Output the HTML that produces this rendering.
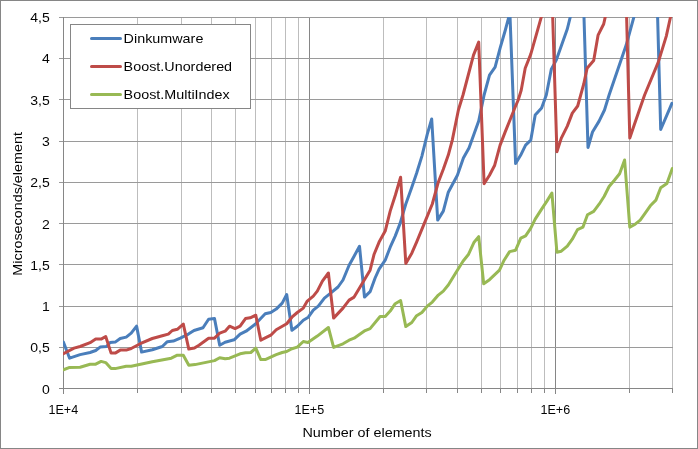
<!DOCTYPE html>
<html><head><meta charset="utf-8"><title>chart</title>
<style>
html,body{margin:0;padding:0;background:#fff;}
body{width:698px;height:449px;overflow:hidden;}
svg{display:block;}
text{font-family:"Liberation Sans",sans-serif;font-size:13px;fill:#000;}
</style></head><body>
<svg width="698" height="449" viewBox="0 0 698 449">
<rect x="0" y="0" width="698" height="449" fill="#fff"/>
<rect x="0.5" y="0.5" width="697" height="448" fill="none" stroke="#868686" stroke-width="1"/>
<defs><clipPath id="pa"><rect x="63" y="17" width="610" height="372"/></clipPath></defs>
<g shape-rendering="crispEdges">
<rect x="137" y="17" width="1" height="371" fill="#bdbdbd"/>
<rect x="137" y="389" width="1" height="4" fill="#868686"/>
<rect x="181" y="17" width="1" height="371" fill="#bdbdbd"/>
<rect x="181" y="389" width="1" height="4" fill="#868686"/>
<rect x="211" y="17" width="1" height="371" fill="#bdbdbd"/>
<rect x="211" y="389" width="1" height="4" fill="#868686"/>
<rect x="235" y="17" width="1" height="371" fill="#bdbdbd"/>
<rect x="235" y="389" width="1" height="4" fill="#868686"/>
<rect x="255" y="17" width="1" height="371" fill="#bdbdbd"/>
<rect x="255" y="389" width="1" height="4" fill="#868686"/>
<rect x="271" y="17" width="1" height="371" fill="#bdbdbd"/>
<rect x="271" y="389" width="1" height="4" fill="#868686"/>
<rect x="285" y="17" width="1" height="371" fill="#bdbdbd"/>
<rect x="285" y="389" width="1" height="4" fill="#868686"/>
<rect x="298" y="17" width="1" height="371" fill="#bdbdbd"/>
<rect x="298" y="389" width="1" height="4" fill="#868686"/>
<rect x="383" y="17" width="1" height="371" fill="#bdbdbd"/>
<rect x="383" y="389" width="1" height="4" fill="#868686"/>
<rect x="426" y="17" width="1" height="371" fill="#bdbdbd"/>
<rect x="426" y="389" width="1" height="4" fill="#868686"/>
<rect x="457" y="17" width="1" height="371" fill="#bdbdbd"/>
<rect x="457" y="389" width="1" height="4" fill="#868686"/>
<rect x="481" y="17" width="1" height="371" fill="#bdbdbd"/>
<rect x="481" y="389" width="1" height="4" fill="#868686"/>
<rect x="500" y="17" width="1" height="371" fill="#bdbdbd"/>
<rect x="500" y="389" width="1" height="4" fill="#868686"/>
<rect x="517" y="17" width="1" height="371" fill="#bdbdbd"/>
<rect x="517" y="389" width="1" height="4" fill="#868686"/>
<rect x="531" y="17" width="1" height="371" fill="#bdbdbd"/>
<rect x="531" y="389" width="1" height="4" fill="#868686"/>
<rect x="544" y="17" width="1" height="371" fill="#bdbdbd"/>
<rect x="544" y="389" width="1" height="4" fill="#868686"/>
<rect x="629" y="17" width="1" height="371" fill="#bdbdbd"/>
<rect x="629" y="389" width="1" height="4" fill="#868686"/>
<rect x="672" y="17" width="1" height="371" fill="#bdbdbd"/>
<rect x="672" y="389" width="1" height="4" fill="#868686"/>
<rect x="309" y="17" width="1" height="377" fill="#868686"/>
<rect x="555" y="17" width="1" height="377" fill="#868686"/>
<rect x="59" y="347" width="614" height="1" fill="#9a9a9a"/>
<rect x="59" y="306" width="614" height="1" fill="#9a9a9a"/>
<rect x="59" y="264" width="614" height="1" fill="#9a9a9a"/>
<rect x="59" y="223" width="614" height="1" fill="#9a9a9a"/>
<rect x="59" y="182" width="614" height="1" fill="#9a9a9a"/>
<rect x="59" y="141" width="614" height="1" fill="#9a9a9a"/>
<rect x="59" y="99" width="614" height="1" fill="#9a9a9a"/>
<rect x="59" y="58" width="614" height="1" fill="#9a9a9a"/>
<rect x="59" y="17" width="614" height="1" fill="#9a9a9a"/>
<rect x="63" y="17" width="1" height="377" fill="#868686"/>
<rect x="59" y="388" width="614" height="1" fill="#868686"/>
</g>
<g clip-path="url(#pa)" fill="none" stroke-width="3" stroke-linejoin="round" stroke-linecap="round">
<polyline stroke="#4a7ebb" points="63.4,342.1 69.6,358.2 80.1,354.6 90.1,352.5 95.7,350.5 100.1,347.1 106.5,346.5 110.1,342.5 115.2,342.1 120.2,338.5 126.2,337.1 131.2,333.1 136.6,326.1 141.6,352.1 152.3,349.7 162.3,346.5 167.3,341.7 173.3,341.1 180.3,338.1 188.4,334.1 194.0,330.5 203.0,327.8 208.6,319.2 214.5,318.6 219.7,345.2 225.1,342.2 234.1,339.8 240.1,334.2 246.1,331.2 255.2,324.2 265.2,313.8 270.8,312.5 276.2,309.1 282.2,303.1 286.7,294.5 291.9,330.2 297.3,326.2 303.3,320.2 308.3,317.2 313.3,310.1 318.3,306.1 324.4,298.1 329.4,294.1 338.0,287.0 343.0,280.0 349.1,265.2 354.1,256.2 359.5,246.2 364.5,297.1 370.1,291.7 375.1,278.0 379.1,269.2 385.2,260.2 390.2,247.2 395.2,236.1 400.2,223.1 405.8,204.0 411.8,187.2 416.6,173.2 421.9,156.1 427.3,134.1 431.7,119.0 437.7,220.1 443.3,211.1 448.3,192.2 457.4,175.2 463.4,158.1 469.0,148.1 478.7,121.1 484.1,95.0 489.5,75.2 495.1,67.2 500.1,48.1 505.2,30.5 509.9,13.0 515.6,163.6 521.2,154.2 525.6,145.1 530.8,140.1 535.2,115.1 541.6,108.0 546.3,95.0 551.3,69.2 556.3,60.1 567.3,29.0 572.5,8.0 577.7,-10.0 582.7,-25.0 588.0,147.5 592.5,132.0 599.1,121.1 604.5,110.0 609.1,95.0 626.2,45.1 633.8,17.4 645.0,-20.0 655.5,-60.0 660.7,129.5 671.9,103.4"/>
<polyline stroke="#be4b48" points="63.4,353.7 74.0,348.1 80.1,346.5 90.1,342.7 95.7,339.1 101.1,339.1 105.7,336.5 111.1,353.1 115.2,353.1 120.2,350.1 126.2,350.1 131.2,348.5 140.2,343.7 152.3,338.5 162.3,335.7 168.3,334.1 172.3,330.5 177.3,329.3 183.3,324.1 188.8,349.1 194.4,348.1 199.0,345.2 208.6,338.2 214.5,338.2 219.7,333.2 225.1,331.2 229.5,326.2 235.1,328.6 240.1,326.2 245.5,318.6 250.2,317.8 255.8,315.2 260.8,340.2 270.8,335.2 276.2,329.8 286.7,323.8 291.9,317.2 297.3,312.5 303.3,308.1 307.3,301.1 313.3,296.1 317.3,291.1 322.4,281.1 328.4,273.0 333.6,318.1 343.0,308.1 349.1,300.1 354.1,297.1 360.1,287.0 370.1,270.2 374.1,254.2 379.1,242.1 385.2,231.1 390.2,211.1 395.4,195.0 400.6,177.2 405.8,263.4 411.8,253.2 416.6,242.1 427.3,216.1 432.3,204.0 438.3,182.2 443.3,169.2 448.3,155.1 452.3,140.1 458.4,110.0 463.0,95.0 473.5,55.1 478.7,42.1 484.1,183.8 489.5,175.2 494.7,165.2 500.1,145.1 505.1,132.1 515.2,107.0 518.2,100.0 521.2,90.2 525.2,68.2 530.8,54.1 541.2,17.4 546.4,0.0 551.7,-15.0 556.9,151.8 561.3,138.1 567.3,126.1 572.3,113.1 577.7,106.0 583.7,84.2 587.1,68.2 593.7,60.5 598.1,35.1 603.7,24.0 609.0,0.0 624.6,-60.0 629.8,138.1 634.2,125.1 644.6,95.0 658.3,62.1 666.3,36.1 672.5,8.0"/>
<polyline stroke="#98b954" points="63.4,369.8 69.0,367.6 80.1,367.2 90.1,364.2 95.7,364.2 101.1,361.4 105.7,362.6 111.1,368.6 115.2,368.6 126.2,366.2 131.2,366.2 152.3,361.8 171.3,358.2 177.3,355.2 183.3,355.2 188.8,365.2 195.0,364.6 214.5,360.6 219.7,357.8 225.1,358.8 229.5,358.2 240.1,353.8 245.5,352.8 250.8,352.5 255.8,348.1 260.8,359.6 265.2,359.6 276.2,354.6 282.2,352.5 286.7,351.5 291.9,348.7 297.3,347.1 303.3,341.5 307.9,342.5 317.3,336.1 328.4,327.5 333.6,347.4 343.0,343.8 349.1,340.2 354.1,338.2 365.1,330.6 370.1,328.6 380.1,316.5 385.2,316.5 390.2,311.1 395.2,303.7 400.6,300.5 405.8,326.6 411.8,322.5 416.6,315.7 421.9,312.5 427.3,306.1 432.3,302.1 438.3,295.1 443.3,291.1 448.3,285.0 458.0,269.2 463.0,261.2 468.6,254.2 474.1,242.2 478.7,236.6 483.7,283.8 489.5,279.7 499.5,270.1 504.1,260.2 509.6,251.6 515.6,250.2 520.8,238.2 525.6,235.8 530.8,228.1 535.2,219.1 541.6,209.1 546.9,201.1 551.9,193.0 556.9,252.2 561.3,251.2 567.3,246.2 572.3,239.2 577.5,229.6 582.9,227.2 587.5,214.8 593.7,211.4 599.1,204.2 604.1,196.5 609.1,186.5 614.2,180.5 619.6,173.7 624.6,160.0 629.8,227.2 635.2,224.2 640.2,220.2 645.2,213.2 650.3,205.8 655.9,200.1 660.7,187.7 666.9,183.5 672.3,168.5"/>
</g>
<rect x="70.5" y="24.5" width="180" height="84" fill="#fff" stroke="#868686" stroke-width="1"/>
<g fill="none" stroke-width="3" stroke-linecap="round">
<line x1="91.5" y1="38.5" x2="120.5" y2="38.5" stroke="#4a7ebb"/>
<line x1="91.5" y1="66.5" x2="120.5" y2="66.5" stroke="#be4b48"/>
<line x1="91.5" y1="94.5" x2="120.5" y2="94.5" stroke="#98b954"/>
</g>
<g opacity="0.99">
<text transform="translate(123.60,43.00) scale(1.105,1)" text-anchor="start">Dinkumware</text>
<text transform="translate(123.60,71.00) scale(1.105,1)" text-anchor="start">Boost.Unordered</text>
<text transform="translate(123.60,99.00) scale(1.105,1)" text-anchor="start">Boost.MultiIndex</text>
<text transform="translate(49.70,394.00) scale(1.08,1)" text-anchor="end">0</text>
<text transform="translate(49.70,352.00) scale(1.08,1)" text-anchor="end">0,5</text>
<text transform="translate(49.70,311.00) scale(1.08,1)" text-anchor="end">1</text>
<text transform="translate(49.70,270.00) scale(1.08,1)" text-anchor="end">1,5</text>
<text transform="translate(49.70,229.00) scale(1.08,1)" text-anchor="end">2</text>
<text transform="translate(49.70,187.00) scale(1.08,1)" text-anchor="end">2,5</text>
<text transform="translate(49.70,146.00) scale(1.08,1)" text-anchor="end">3</text>
<text transform="translate(49.70,105.00) scale(1.08,1)" text-anchor="end">3,5</text>
<text transform="translate(49.70,63.00) scale(1.08,1)" text-anchor="end">4</text>
<text transform="translate(49.70,22.00) scale(1.08,1)" text-anchor="end">4,5</text>
<text transform="translate(63.30,414.00) scale(0.965,1)" text-anchor="middle">1E+4</text>
<text transform="translate(309.30,414.00) scale(0.965,1)" text-anchor="middle">1E+5</text>
<text transform="translate(555.30,414.00) scale(0.965,1)" text-anchor="middle">1E+6</text>
<text transform="translate(367.10,436.50) scale(1.105,1)" text-anchor="middle">Number of elements</text>
<text transform="translate(22.40,203.90) rotate(-90) scale(1.105,1)" text-anchor="middle">Microseconds/element</text>
</g>
</svg>
</body></html>
